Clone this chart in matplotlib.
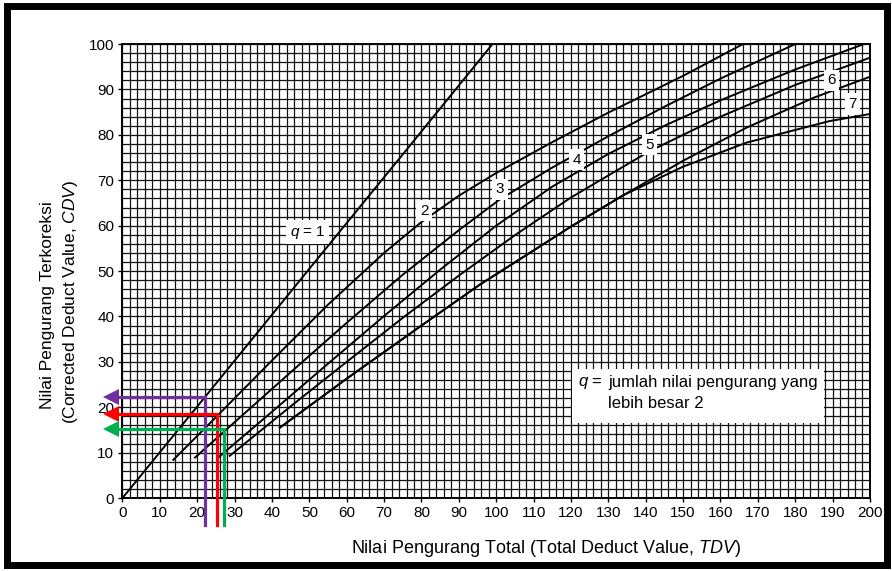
import matplotlib
matplotlib.use("Agg")
import matplotlib.pyplot as plt
from matplotlib.patches import Rectangle
import numpy as np

plt.rcParams['font.family'] = ['Liberation Sans', 'DejaVu Sans']
plt.rcParams['mathtext.fontset'] = 'custom'
plt.rcParams['mathtext.rm'] = 'Liberation Sans'
plt.rcParams['mathtext.it'] = 'Liberation Sans:italic'

# Corrected deduct value curves: TDV (x) vs CDV (y) for each q
tdv_q1 = [0, 25, 50, 75, 99]
cdv_q1 = [0, 25.2, 50.5, 75.7, 100]

tdv_q2 = [13.6, 25, 40, 55, 70, 80, 90, 100, 115, 130, 150, 166]
cdv_q2 = [8.4, 17.8, 30.3, 42.6, 54.0, 60.8, 66.6, 71.6, 78.4, 84.9, 93.0, 100]

tdv_q3 = [19.4, 30, 45, 60, 75, 90, 101, 115, 130, 145, 160, 180]
cdv_q3 = [8.9, 16.7, 27.7, 38.6, 49.2, 59.0, 65.8, 72.8, 79.7, 86.2, 92.4, 100]

tdv_q4 = [25.6, 40, 55, 70, 85, 100, 115, 130, 145, 160, 180, 200]
cdv_q4 = [8.9, 19.0, 29.6, 40.1, 50.3, 60.0, 68.6, 75.8, 82.0, 87.6, 94.4, 100.5]

tdv_q5 = [28.7, 45, 60, 75, 90, 105, 120, 141, 160, 180, 200]
cdv_q5 = [9.3, 20.2, 30.0, 39.7, 49.0, 57.9, 66.2, 76.4, 84.0, 91.0, 97.0]

tdv_q6 = [42.1, 60, 80, 95.6, 106.3, 120, 134, 150, 167, 185, 200]
cdv_q6 = [15.5, 26.3, 38.0, 47.0, 52.6, 59.8, 66.7, 74.3, 81.6, 88.2, 92.8]

tdv_q7 = [42.1, 60, 80, 95.6, 106.3, 120, 134, 150, 167, 189, 200]
cdv_q7 = [15.5, 26.3, 38.0, 47.0, 52.6, 59.8, 66.7, 73.0, 78.3, 83.0, 84.6]

curves = [(tdv_q1, cdv_q1), (tdv_q2, cdv_q2), (tdv_q3, cdv_q3), (tdv_q4, cdv_q4),
          (tdv_q5, cdv_q5), (tdv_q6, cdv_q6), (tdv_q7, cdv_q7)]

curve_names = ["$q$ = 1", "2", "3", "4", "5", "6", "7"]
name_x = [49.5, 80.7, 101, 121.5, 141, 189.7, 195.3]
name_y = [58.6, 63.3, 68.0, 74.5, 77.8, 92.0, 86.8]

# Worked examples: TDV read up to the curve, CDV read across to the axis
example_tdv = [22.1, 25.2, 27.1]
example_cdv = [22.2, 18.6, 15.2]
example_colors = ['#7030A0', '#FF0000', '#00B050']

x_ticks = list(range(0, 201, 10))
y_ticks = list(range(0, 101, 10))

fig = plt.figure(figsize=(8.92, 5.71), dpi=100)
ax = fig.add_axes([0.1373, 0.1278, 0.8380, 0.7950])

ax.set_xlim(0, 200)
ax.set_ylim(0, 100)
ax.set_xticks(x_ticks)
ax.set_yticks(y_ticks)
ax.set_xticks(np.arange(0, 201, 2), minor=True)
ax.set_yticks(np.arange(0, 101, 2), minor=True)
ax.grid(True, which='both', color='#111111', linewidth=0.9)
ax.set_axisbelow(True)
ax.tick_params(which='major', direction='out', length=3, width=1,
               labelsize=11, pad=3, colors='black')
ax.tick_params(which='minor', length=0)
for sp in ax.spines.values():
    sp.set_linewidth(1.4)
    sp.set_color('black')

for xs, ys in curves:
    ax.plot(xs, ys, color='black', linewidth=1.4, zorder=3)

for name, tx, ty in zip(curve_names, name_x, name_y):
    ax.text(tx, ty, name, fontsize=11, ha='center', va='center', zorder=4,
            bbox=dict(facecolor='white', edgecolor='none', pad=2.5))

# Explanatory note box
ax.add_patch(Rectangle((120.3, 16.5), 67.3, 12.0, facecolor='white',
                       edgecolor='none', zorder=3.5))
ax.text(122.0, 25.4, "$q$ =", fontsize=12, ha='left', va='center', zorder=4)
ax.text(130.0, 25.4, "jumlah nilai pengurang yang", fontsize=12,
        ha='left', va='center', zorder=4)
ax.text(130.0, 20.8, "lebih besar 2", fontsize=12, ha='left', va='center',
        zorder=4)

# Reading arrows
for tx, cy, col in zip(example_tdv, example_cdv, example_colors):
    ax.plot([tx, tx, -2.0], [-6.0, cy, cy], color=col, linewidth=2.3,
            clip_on=False, zorder=6, solid_joinstyle='miter')
    ax.plot([-3.0], [cy], marker='<', markersize=11, color=col,
            markeredgewidth=0, clip_on=False, zorder=6)

ax.set_xlabel("Nilai Pengurang Total (Total Deduct Value, $\\mathit{TDV}$)",
              fontsize=13)
ax.xaxis.set_label_coords((546 - 122.5) / 747.5, -0.088)

fig.text(48 / 892, 1 - 305 / 571, "Nilai Pengurang Terkoreksi", rotation=90,
         fontsize=12.5, ha='center', va='center')
fig.text(70 / 892, 1 - 302 / 571, "(Corrected Deduct Value, $\\mathit{CDV}$)",
         rotation=90, fontsize=12.5, ha='center', va='center')

# Heavy outer frame
fig.patches.append(Rectangle((6.5 / 892, 6 / 571), (887 - 6.5) / 892,
                             (565 - 6) / 571, transform=fig.transFigure,
                             fill=False, edgecolor='black', linewidth=5.0))

fig.savefig("out.png", dpi=100)
